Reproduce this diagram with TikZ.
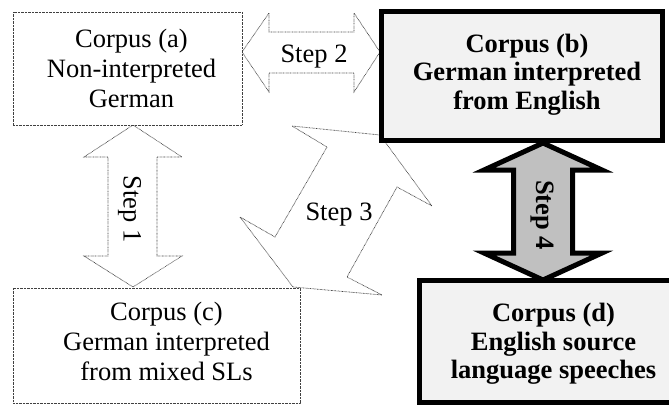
\documentclass[tikz,border=0pt]{standalone}
\usepackage{fontspec}
\setmainfont{Liberation Serif}
\definecolor{boxgray}{HTML}{F2F2F2}
\definecolor{arrowgray}{HTML}{C0C0C0}
\definecolor{dotgray}{HTML}{404040}
\begin{document}
\begin{tikzpicture}[x=1pt,y=-1pt,
  dotline/.style={draw=dotgray, line width=0.7pt, dash pattern=on 0.7pt off 0.7pt},
  lightbox/.style={dotline, fill=white, inner sep=0pt, outer sep=0pt, anchor=north west},
  heavybox/.style={draw=black, line width=5pt, fill=boxgray, inner sep=0pt, outer sep=0pt, anchor=north west},
  thinarrow/.style={dotline, fill=white, line join=miter},
  thickarrow/.style={draw=black, line width=5pt, fill=arrowgray, line join=miter},
  regtext/.style={align=center, inner sep=0pt, font=\fontsize{26.5}{30}\selectfont},
  boldtext/.style={align=center, inner sep=0pt, font=\fontsize{26.5}{28.5}\selectfont\bfseries},
  steptext/.style={inner sep=0pt, font=\fontsize{26.5}{30}\selectfont}
]
\useasboundingbox (0,0) rectangle (669,405);
\clip (0,0) rectangle (669,405);
% thin block arrows (steps 1--3)
\draw[thinarrow] (242,52) -- (269,13) -- (269,32) -- (354,32) -- (354,13) -- (380,52)
  -- (354,92) -- (354,73) -- (269,73) -- (269,92) -- cycle;
\draw[thinarrow] (133,125) -- (182,157) -- (157,157) -- (157,256) -- (182,256) -- (133,287)
  -- (84,256) -- (108,256) -- (108,157) -- (84,157) -- cycle;
\draw[thinarrow] (380,135) -- (432,206) -- (397,187) -- (347,277) -- (382,295) -- (293,287)
  -- (240,217) -- (275,237) -- (327,147) -- (292,126) -- cycle;
% boxes
\node[lightbox, minimum width=229pt, minimum height=113pt] (a) at (13,12) {};
\node[lightbox, minimum width=287pt, minimum height=115pt] (c) at (13,288) {};
\node[heavybox, minimum width=281pt, minimum height=129pt] (b) at (381.5,11.5) {};
\node[heavybox, minimum width=270.5pt, minimum height=122pt] (d) at (419.5,280.5) {};
% thick block arrow (step 4)
\draw[thickarrow] (543,143) -- (602,170) -- (572.5,170) -- (572.5,253) -- (602,253) -- (543,280)
  -- (484,253) -- (513.5,253) -- (513.5,170) -- (484,170) -- cycle;
% box texts
\node[regtext] (at) at (131.5,68) {Corpus (a)\\Non-interpreted\\German};
\node[regtext] (ct) at (166.5,341) {Corpus (c)\\German interpreted\\from mixed SLs};
\node[boldtext] (bt) at (527,74.5) {Corpus (b)\\German interpreted\\from English};
\node[boldtext] (dt) at (553.5,344) {Corpus (d)\\English source\\language speeches};
% step labels
\node[steptext, anchor=base] (s2) at (314,62) {Step 2};
\node[steptext, anchor=base] (s3) at (339,220) {Step 3};
\node[steptext, anchor=base, rotate=-90] (s1) at (123.5,209) {Step 1};
\node[steptext, anchor=base, rotate=-90, font=\fontsize{26.5}{30}\selectfont\bfseries] (s4) at (536,215) {Step 4};
\end{tikzpicture}
\end{document}
